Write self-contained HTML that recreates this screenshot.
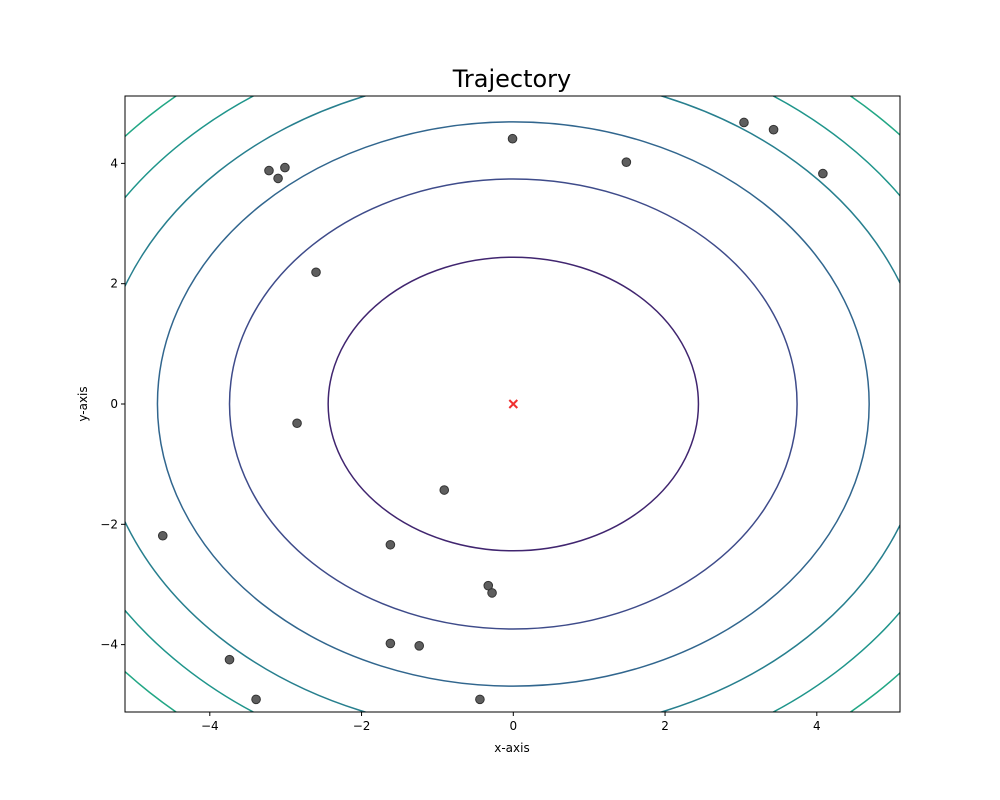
<!DOCTYPE html>
<html><head><meta charset="utf-8"><style>
html,body{margin:0;padding:0;background:#fff;overflow:hidden;width:1000px;height:800px}
svg{display:block}
svg text{font-family:"DejaVu Sans","Liberation Sans",sans-serif;fill:#000}
</style></head><body>
<svg id="chart" width="1000" height="800" viewBox="0 0 1000 800" xmlns="http://www.w3.org/2000/svg">
<rect width="1000" height="800" fill="#fff"/>
<defs><clipPath id="clip"><rect x="125" y="96" width="775" height="616"/></clipPath></defs>
<g id="contours" clip-path="url(#clip)"></g>
<g id="points" clip-path="url(#clip)"></g>
<g id="axes"></g>
<text x="512" y="87" font-size="24" text-anchor="middle">Trajectory</text>
<text x="512" y="752" font-size="12" text-anchor="middle">x-axis</text>
<text x="0" y="0" font-size="12" text-anchor="middle" transform="translate(87,404) rotate(-90)">y-axis</text>
</svg>
<script>
const contourRadii=[2.44,3.74,4.69,5.48,6.16,6.78,7.35];
const contourColors=['#40256f','#3e4b8a','#31668e','#277f8e','#1f958b','#22a785','#3bbb75'];
const pointsX=[-0.01,1.49,3.04,3.43,4.08,-3.22,-3.01,-3.10,-2.60,-2.85,-0.91,-4.62,-1.62,-0.33,-0.28,-1.62,-1.24,-3.74,-3.39,-0.44];
const pointsY=[4.41,4.02,4.68,4.56,3.83,3.88,3.93,3.75,2.19,-0.32,-1.43,-2.19,-2.34,-3.02,-3.14,-3.98,-4.02,-4.25,-4.91,-4.91];
const targetX=[0];const targetY=[0];
const xTicks=[-4,-2,0,2,4];const yTicks=[-4,-2,0,2,4];
const NS='http://www.w3.org/2000/svg';
const X0=125,X1=900,Y0=96,Y1=712,XMIN=-5.107,XMAX=5.107,YMIN=-5.12,YMAX=5.12;
const sx=v=>X0+(v-XMIN)/(XMAX-XMIN)*(X1-X0)+0.8;
const sy=v=>Y1-(v-YMIN)/(YMAX-YMIN)*(Y1-Y0);
function mk(t,a,p){const e=document.createElementNS(NS,t);for(const k in a)e.setAttribute(k,a[k]);p.appendChild(e);return e;}
const cg=document.getElementById('contours');
contourRadii.forEach((r,i)=>{
 const el=mk('ellipse',{cx:sx(0),cy:sy(0),rx:sx(r)-sx(0),ry:sy(0)-sy(r),fill:'none',stroke:contourColors[i],'stroke-width':1.5},cg);
 
 
});
const pg=document.getElementById('points');
pointsX.forEach((x,i)=>{
 const el=mk('circle',{cx:sx(x),cy:sy(pointsY[i]),r:4.3,fill:'#555','fill-opacity':0.95,stroke:'#333','stroke-width':1},pg);
 
 
});
targetX.forEach((x,i)=>{
 const cx=sx(x),cy=sy(targetY[i]);
 const el=mk('path',{d:`M${cx-4},${cy-4}L${cx+4},${cy+4}M${cx-4},${cy+4}L${cx+4},${cy-4}`,stroke:'#f03030','stroke-width':2},pg);
 
 
});
const ag=document.getElementById('axes');
const fr=mk('rect',{x:X0,y:Y0,width:X1-X0,height:Y1-Y0,fill:'none',stroke:'#000','stroke-width':1},ag);


const lab=v=>v<0?'\u2212'+Math.abs(v):String(v);
xTicks.forEach(v=>{
 mk('line',{x1:sx(v),x2:sx(v),y1:Y1,y2:Y1+4,stroke:'#000'},ag);
 const t=mk('text',{x:sx(v),y:Y1+18,'font-size':12,'text-anchor':'middle'},ag);t.textContent=lab(v);
 
 
});
yTicks.forEach(v=>{
 mk('line',{x1:X0-4,x2:X0,y1:sy(v),y2:sy(v),stroke:'#000'},ag);
 const t=mk('text',{x:X0-7,y:sy(v)+4,'font-size':12,'text-anchor':'end'},ag);t.textContent=lab(v);
 
 
});
</script>
</body></html>
